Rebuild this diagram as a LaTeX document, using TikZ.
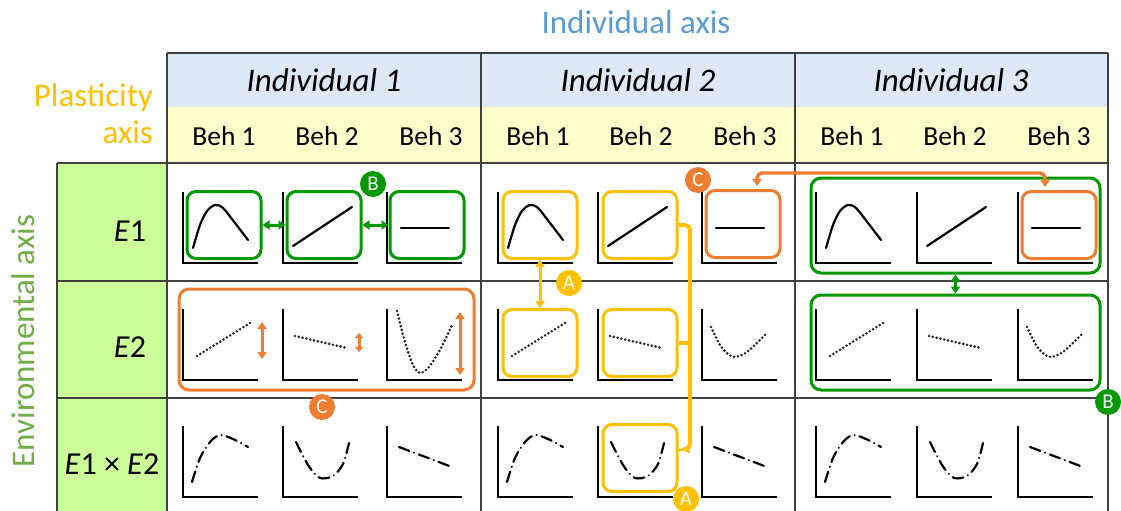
\documentclass[tikz,border=0pt]{standalone}
\usepackage{fontspec}
\setmainfont{Carlito}
\usetikzlibrary{arrows.meta,calc}

\definecolor{axisBlue}{RGB}{91,155,213}
\definecolor{plastGold}{RGB}{255,192,0}
\definecolor{envText}{RGB}{112,173,71}
\definecolor{hdrBlue}{RGB}{221,233,246}
\definecolor{hdrYellow}{RGB}{255,255,204}
\definecolor{envFill}{RGB}{204,255,153}
\definecolor{gridGray}{RGB}{64,64,64}
\definecolor{selGreen}{RGB}{0,153,0}
\definecolor{selGold}{RGB}{255,192,0}
\definecolor{selOrange}{RGB}{237,125,49}

\tikzset{
  tabline/.style={draw=gridGray,line width=1.4pt},
  axislabel/.style={font=\fontsize{33}{37}\selectfont,inner sep=0pt},
  indhead/.style={font=\fontsize{33}{33}\selectfont\itshape,inner sep=0pt},
  behhead/.style={font=\fontsize{27.5}{27.5}\selectfont,inner sep=0pt},
  rowhead/.style={font=\fontsize{32}{32}\selectfont,inner sep=0pt},
  plotaxis/.style={draw=black,line width=2.8pt},
  solidcurve/.style={draw=black,line width=2.2pt,line cap=round},
  dotcurve/.style={draw=black!85,line width=2.9pt,line cap=round,dash pattern=on 0pt off 3.9pt},
  dashdotcurve/.style={draw=black,line width=2.2pt,line cap=round,dash pattern=on 11pt off 5pt on 0.1pt off 5pt},
  selbox/.style={draw,rounded corners=9pt,line width=3pt,minimum width=74pt,minimum height=67pt,inner sep=0pt},
  groupbox/.style={draw,rounded corners=10pt,line width=3pt,inner sep=0pt},
  selconn/.style={line width=3pt,{Triangle[length=7pt,width=9pt]}-{Triangle[length=7pt,width=9pt]}},
  badge/.style={circle,inner sep=0pt,minimum size=26pt,text=white,font=\fontsize{21}{21}\selectfont}
}

% curve shapes, relative to the corner of each small plot
\newcommand{\humpSolid}{plot[smooth] coordinates {(10,-15) (17,-38) (24,-52) (32,-58) (40,-55) (52,-40) (65,-23)}}
\newcommand{\riseSolid}{(10,-17) -- (69,-56)}
\newcommand{\flatSolid}{(14,-35) -- (62,-35)}
\newcommand{\riseDot}{(14,-24) -- (67,-57)}
\newcommand{\fallDot}{(12,-44) -- (64,-32)}
\newcommand{\deepU}{plot[smooth] coordinates {(10,-69) (18,-38) (26,-15) (33,-7) (42,-13) (54,-32) (66,-57)}}
\newcommand{\flatU}{plot[smooth] coordinates {(9,-53) (18,-35) (26,-26) (33,-23) (45,-28) (64,-46)}}
\newcommand{\humpDash}{plot[smooth] coordinates {(9,-15) (17,-39) (27,-55) (37,-62) (50,-58) (65,-50)}}
\newcommand{\valleyDash}{plot[smooth] coordinates {(13,-55) (19,-43) (27,-29) (37,-19) (50,-21) (60,-33) (66,-54)}}
\newcommand{\fallDash}{(12,-50) -- (65,-30)}

\begin{document}
\begin{tikzpicture}[x=1pt,y=-1pt]
\path[use as bounding box,fill=white] (0,0) rectangle (1121,511);

% table
\fill[hdrBlue] (167,53) rectangle (1108,107);
\fill[hdrYellow] (167,107) rectangle (1108,163);
\fill[envFill] (57,163) rectangle (167,511);
\draw[tabline] (167,53) -- (1108,53);
\foreach \ly in {163,281,398}
  \draw[tabline] (57,\ly) -- (1108,\ly);
\draw[tabline] (57,163) -- (57,511);
\foreach \lx in {167,481,795,1108}
  \draw[tabline] (\lx,53) -- (\lx,511);

% axis names
\node[axislabel,text=axisBlue] (indaxis) at (636,22) {Individual axis};
\node[axislabel,text=plastGold,align=right,anchor=east] (plastaxis) at (153,114) {Plasticity\\axis};
\node[axislabel,text=envText,rotate=90] (envaxis) at (23,341) {Environmental axis};

% headers
\foreach \i/\cx in {1/324,2/638,3/951}
  \node[indhead] (ind\i) at (\cx,80) {Individual \i};
\foreach \i/\cx in {1/167,2/481,3/795}
  \foreach \b/\off in {1/57,2/160,3/264}
    \node[behhead] (beh\i\b) at (\cx+\off,136) {Beh \b};
\node[rowhead] (rowA) at (130,231) {\textit{E}1};
\node[rowhead] (rowB) at (130,347) {\textit{E}2};
\node[rowhead] (rowC) at (112,464) {\textit{E}1 × \textit{E}2};

% small plots
\foreach \pa/\pb/\pc/\deep in {183/283/387/1,498/598/702/0,816/917/1018/0} {
  \foreach \px in {\pa,\pb,\pc}
    \foreach \by in {263,380,497}
      \draw[plotaxis] (\px,\by-71) |- (\px+75,\by);
  \draw[solidcurve,shift={(\pa,263)}] \humpSolid;
  \draw[solidcurve,shift={(\pb,263)}] \riseSolid;
  \draw[solidcurve,shift={(\pc,263)}] \flatSolid;
  \draw[dotcurve,shift={(\pa,380)}] \riseDot;
  \draw[dotcurve,shift={(\pb,380)}] \fallDot;
  \ifnum\deep=1
    \draw[dotcurve,shift={(\pc,380)}] \deepU;
  \else
    \draw[dotcurve,shift={(\pc,380)}] \flatU;
  \fi
  \draw[dashdotcurve,shift={(\pa,497)}] \humpDash;
  \draw[dashdotcurve,shift={(\pb,497)}] \valleyDash;
  \draw[dashdotcurve,shift={(\pc,497)}] \fallDash;
}

% individual 1
\node[selbox,draw=selGreen] (gA) at (224,225) {};
\node[selbox,draw=selGreen] (gB) at (324,225) {};
\node[selbox,draw=selGreen] (gC) at (427,225) {};
\draw[selconn,selGreen] (gA) -- (gB);
\draw[selconn,selGreen] (gB) -- (gC);
\node[groupbox,draw=selOrange,minimum width=295pt,minimum height=101pt] (oRow) at (326.5,339.5) {};
\draw[selconn,selOrange] (262,322) -- (262,359);
\draw[selconn,selOrange,{Triangle[length=5pt,width=8pt]}-{Triangle[length=5pt,width=8pt]}] (359,333) -- (359,352);
\draw[selconn,selOrange] (460,312) -- (460,375);

% individual 2
\node[selbox,draw=selGold] (yA) at (540,225) {};
\node[selbox,draw=selGold] (yB) at (640,225) {};
\node[selbox,draw=selGold] (yC) at (540,343) {};
\node[selbox,draw=selGold] (yD) at (640,343) {};
\node[selbox,draw=selGold] (yE) at (640,458) {};
\node[selbox,draw=selOrange] (oA) at (743,224) {};
\draw[selconn,selGold] (yA) -- (yC);
\coordinate (ybend) at (690,449);
\draw[selGold,line width=3.8pt,rounded corners=5pt,-{Triangle[length=7pt,width=9pt]}] (yB.east) -| (ybend) -- ($(yE.east)+(4,-9)$);
\draw[selGold,line width=3.8pt] (yD.east) -- (yD.east -| ybend);

% individual 3
\node[groupbox,draw=selGreen,minimum width=289pt,minimum height=95pt] (gRowA) at (955.5,225.5) {};
\node[groupbox,draw=selGreen,minimum width=289pt,minimum height=95pt] (gRowB) at (955.5,342.5) {};
\node[selbox,draw=selOrange] (oB) at (1059,225) {};
\draw[selconn,selGreen] (gRowA) -- (gRowB);
\coordinate (otop) at (900,173);
\draw[selconn,selOrange,line width=3.4pt,rounded corners=5pt,shorten <=3pt,shorten >=3pt] ([xshift=14pt]oA.north) |- (otop) -| ([xshift=-14pt]oB.north);

% badges
\node[badge,fill=selGreen] (bB1) at (373,184) {B};
\node[badge,fill=selGreen] (bB2) at (1108,402) {B};
\node[badge,fill=selOrange] (bC1) at (322,407) {C};
\node[badge,fill=selOrange] (bC2) at (698,180) {C};
\node[badge,fill=selGold] (bA1) at (569,283) {A};
\node[badge,fill=selGold] (bA2) at (686,499) {A};
\end{tikzpicture}
\end{document}
